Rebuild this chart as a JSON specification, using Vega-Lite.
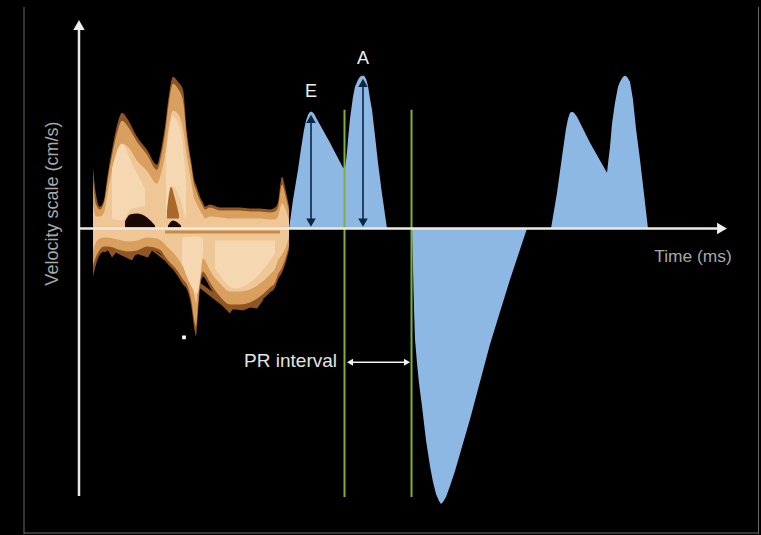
{
"$schema":"https://vega.github.io/schema/vega-lite/v6.json",
"width":761,"height":535,"autosize":{"type":"fit","contains":"padding"},"padding":0,"background":"#000000",
"config":{"view":{"stroke":null},"font":"Liberation Sans"},
"datasets":{
"doppler":[
{"t":93,"to":61,"bo":-48,"tm":47,"bm":-37,"ti":25,"bi":-22},
{"t":96,"to":34,"bo":-36,"tm":24,"bm":-28,"ti":12,"bi":-14},
{"t":100,"to":22,"bo":-26,"tm":19,"bm":-21,"ti":12,"bi":-10},
{"t":104,"to":29,"bo":-23,"tm":26,"bm":-18,"ti":16,"bi":-9},
{"t":108,"to":56,"bo":-21,"tm":51,"bm":-18,"ti":38,"bi":-9},
{"t":113,"to":84,"bo":-23,"tm":78,"bm":-19,"ti":62,"bi":-10},
{"t":118,"to":107,"bo":-25,"tm":99,"bm":-21,"ti":80,"bi":-11},
{"t":122,"to":116,"bo":-27,"tm":108,"bm":-22,"ti":85,"bi":-12},
{"t":128,"to":109,"bo":-28,"tm":102,"bm":-23,"ti":82,"bi":-13},
{"t":137,"to":92,"bo":-26,"tm":87,"bm":-22,"ti":68,"bi":-12},
{"t":147,"to":79,"bo":-21,"tm":74,"bm":-18,"ti":58,"bi":-9},
{"t":157,"to":64,"bo":-23,"tm":59,"bm":-20,"ti":45,"bi":-10},
{"t":161,"to":79,"bo":-26,"tm":72,"bm":-22,"ti":55,"bi":-12},
{"t":165,"to":102,"bo":-32,"tm":95,"bm":-28,"ti":74,"bi":-16},
{"t":169,"to":134,"bo":-37,"tm":127,"bm":-33,"ti":103,"bi":-20},
{"t":173,"to":152,"bo":-41,"tm":145,"bm":-37,"ti":118,"bi":-24},
{"t":178,"to":147,"bo":-48,"tm":140,"bm":-43,"ti":115,"bi":-30},
{"t":183,"to":139,"bo":-56,"tm":128,"bm":-51,"ti":100,"bi":-38},
{"t":187,"to":96,"bo":-61,"tm":90,"bm":-56,"ti":72,"bi":-42},
{"t":191,"to":69,"bo":-76,"tm":64,"bm":-70,"ti":48,"bi":-52},
{"t":195,"to":46,"bo":-104,"tm":41,"bm":-95,"ti":28,"bi":-70},
{"t":196,"to":44,"bo":-108,"tm":39,"bm":-98,"ti":26,"bi":-75},
{"t":198,"to":38,"bo":-85,"tm":33,"bm":-76,"ti":22,"bi":-55},
{"t":200,"to":32,"bo":-60,"tm":28,"bm":-54,"ti":18,"bi":-40},
{"t":203,"to":26,"bo":-48,"tm":22,"bm":-43,"ti":13,"bi":-30},
{"t":205,"to":22,"bo":-50,"tm":19,"bm":-45,"ti":10,"bi":-32},
{"t":210,"to":24,"bo":-59,"tm":21,"bm":-54,"ti":12,"bi":-42},
{"t":220,"to":21,"bo":-73,"tm":18,"bm":-68,"ti":11,"bi":-55},
{"t":230,"to":21,"bo":-81,"tm":18,"bm":-76,"ti":10,"bi":-63},
{"t":240,"to":21,"bo":-81,"tm":18,"bm":-76,"ti":10,"bi":-63},
{"t":250,"to":20,"bo":-79,"tm":17,"bm":-74,"ti":10,"bi":-61},
{"t":260,"to":20,"bo":-73,"tm":17,"bm":-68,"ti":10,"bi":-55},
{"t":270,"to":19,"bo":-64,"tm":16,"bm":-59,"ti":9,"bi":-46},
{"t":275,"to":21,"bo":-59,"tm":17,"bm":-54,"ti":9,"bi":-40},
{"t":278,"to":26,"bo":-51,"tm":21,"bm":-46,"ti":12,"bi":-32},
{"t":282,"to":52,"bo":-44,"tm":44,"bm":-39,"ti":25,"bi":-26},
{"t":286,"to":37,"bo":-33,"tm":31,"bm":-28,"ti":18,"bi":-18},
{"t":289,"to":22,"bo":-21,"tm":18,"bm":-17,"ti":8,"bi":-8}
],
"patches":[
{"t":112,"a":60,"b":10,"g":"h1"},{"t":122,"a":85,"b":8,"g":"h1"},{"t":132,"a":65,"b":20,"g":"h1"},{"t":145,"a":40,"b":22,"g":"h1"},
{"t":166,"a":70,"b":12,"g":"h2"},{"t":173,"a":112,"b":42,"g":"h2"},{"t":180,"a":100,"b":30,"g":"h2"},{"t":186,"a":50,"b":8,"g":"h2"},
{"t":182,"a":-10,"b":-35,"g":"h3"},{"t":190,"a":-8,"b":-55,"g":"h3"},{"t":197,"a":-8,"b":-65,"g":"h3"},{"t":203,"a":-10,"b":-22,"g":"h3"},
{"t":215,"a":-12,"b":-40,"g":"h4"},{"t":235,"a":-12,"b":-60,"g":"h4"},{"t":255,"a":-12,"b":-50,"g":"h4"},{"t":275,"a":-12,"b":-25,"g":"h4"}
],
"teeth":[
{"t":104,"a":-20,"b":-24},{"t":108,"a":-20,"b":-22},{"t":112,"a":-20,"b":-29},{"t":116,"a":-20,"b":-24},{"t":124,"a":-20,"b":-28},{"t":132,"a":-20,"b":-32},{"t":136,"a":-20,"b":-25},{"t":148,"a":-20,"b":-29},{"t":152,"a":-20,"b":-22},
{"t":222,"a":-70,"b":-77},{"t":230,"a":-70,"b":-85},{"t":233,"a":-70,"b":-80},{"t":243,"a":-70,"b":-82},{"t":250,"a":-70,"b":-79},{"t":257,"a":-70,"b":-80},{"t":263,"a":-70,"b":-72}
],
"blue":[{"t":289,"v":0,"g":"EA"},{"t":291,"v":14,"g":"EA"},{"t":293,"v":29,"g":"EA"},{"t":296,"v":47,"g":"EA"},{"t":298,"v":59,"g":"EA"},{"t":301,"v":80,"g":"EA"},{"t":304,"v":99,"g":"EA"},{"t":306,"v":108,"g":"EA"},{"t":308,"v":114,"g":"EA"},{"t":310,"v":117,"g":"EA"},{"t":312,"v":117,"g":"EA"},{"t":314,"v":115,"g":"EA"},{"t":320,"v":104,"g":"EA"},{"t":330,"v":86,"g":"EA"},{"t":343,"v":61,"g":"EA"},{"t":345,"v":61,"g":"EA"},{"t":346,"v":68,"g":"EA"},{"t":347,"v":77,"g":"EA"},{"t":348,"v":89,"g":"EA"},{"t":350,"v":110,"g":"EA"},{"t":353,"v":132,"g":"EA"},{"t":355,"v":142,"g":"EA"},{"t":358,"v":149,"g":"EA"},{"t":360,"v":152,"g":"EA"},{"t":362,"v":153,"g":"EA"},{"t":364,"v":153,"g":"EA"},{"t":366,"v":150,"g":"EA"},{"t":368,"v":143,"g":"EA"},{"t":370,"v":130,"g":"EA"},{"t":372,"v":119,"g":"EA"},{"t":375,"v":93,"g":"EA"},{"t":378,"v":66,"g":"EA"},{"t":382,"v":35,"g":"EA"},{"t":387,"v":0,"g":"EA"},
{"t":412,"v":0,"g":"V"},{"t":413,"v":-40,"g":"V"},{"t":414,"v":-80,"g":"V"},{"t":415,"v":-111,"g":"V"},{"t":417,"v":-135,"g":"V"},{"t":419,"v":-155,"g":"V"},{"t":422,"v":-178,"g":"V"},{"t":426,"v":-212,"g":"V"},{"t":430,"v":-238,"g":"V"},{"t":433,"v":-254,"g":"V"},{"t":436,"v":-266,"g":"V"},{"t":439,"v":-273,"g":"V"},{"t":441,"v":-276,"g":"V"},{"t":443,"v":-274,"g":"V"},{"t":446,"v":-269,"g":"V"},{"t":450,"v":-258,"g":"V"},{"t":455,"v":-243,"g":"V"},{"t":470,"v":-191,"g":"V"},{"t":490,"v":-116,"g":"V"},{"t":510,"v":-51,"g":"V"},{"t":527,"v":0,"g":"V"},
{"t":551,"v":0,"g":"EA2"},{"t":557,"v":36,"g":"EA2"},{"t":563,"v":79,"g":"EA2"},{"t":566,"v":100,"g":"EA2"},{"t":568,"v":110,"g":"EA2"},{"t":570,"v":116,"g":"EA2"},{"t":572,"v":117,"g":"EA2"},{"t":574,"v":116,"g":"EA2"},{"t":577,"v":112,"g":"EA2"},{"t":590,"v":86,"g":"EA2"},{"t":607,"v":56,"g":"EA2"},{"t":608,"v":65,"g":"EA2"},{"t":610,"v":82,"g":"EA2"},{"t":612,"v":105,"g":"EA2"},{"t":615,"v":126,"g":"EA2"},{"t":618,"v":142,"g":"EA2"},{"t":620,"v":147,"g":"EA2"},{"t":623,"v":152,"g":"EA2"},{"t":625,"v":153,"g":"EA2"},{"t":627,"v":152,"g":"EA2"},{"t":630,"v":147,"g":"EA2"},{"t":632,"v":135,"g":"EA2"},{"t":633,"v":129,"g":"EA2"},{"t":636,"v":100,"g":"EA2"},{"t":640,"v":69,"g":"EA2"},{"t":644,"v":35,"g":"EA2"},{"t":648,"v":0,"g":"EA2"}]
},
"encoding":{"x":{"field":"t","type":"quantitative","axis":null,"scale":{"domain":[0,761],"nice":false,"zero":false}}},
"layer":[
{"data":{"name":"teeth"},"mark":{"type":"area","color":"#8f5522"},"encoding":{"y":{"field":"a","type":"quantitative","axis":null,"scale":{"domain":[-306,229],"nice":false,"zero":false}},"y2":{"field":"b"}}},
{"data":{"name":"doppler"},"mark":{"type":"area","color":"#8f5522","interpolate":"monotone"},"encoding":{"y":{"field":"to","type":"quantitative","axis":null,"scale":{"domain":[-306,229],"nice":false,"zero":false}},"y2":{"field":"bo"}}},
{"data":{"name":"doppler"},"mark":{"type":"area","color":"#d99f5f","interpolate":"monotone"},"encoding":{"y":{"field":"tm","type":"quantitative","axis":null,"scale":{"domain":[-306,229],"nice":false,"zero":false}},"y2":{"field":"bm"}}},
{"data":{"name":"doppler"},"mark":{"type":"area","color":"#efc796","interpolate":"monotone"},"encoding":{"y":{"field":"ti","type":"quantitative","axis":null,"scale":{"domain":[-306,229],"nice":false,"zero":false}},"y2":{"field":"bi"}}},
{"data":{"name":"patches"},"mark":{"type":"area","color":"#f5d8b2","interpolate":"monotone"},"encoding":{"detail":{"field":"g"},"y":{"field":"a","type":"quantitative","axis":null,"scale":{"domain":[-306,229],"nice":false,"zero":false}},"y2":{"field":"b"}}},
{"data":{"values":[{"t":125,"a":7,"b":1,"g":"h1"},{"t":130,"a":14,"b":1,"g":"h1"},{"t":137,"a":15,"b":1,"g":"h1"},{"t":147,"a":11,"b":1,"g":"h1"},{"t":155,"a":3,"b":1,"g":"h1"},{"t":168,"a":3,"b":1,"g":"h2"},{"t":173,"a":8,"b":1,"g":"h2"},{"t":181,"a":3,"b":1,"g":"h2"}]},"mark":{"type":"area","color":"#1a0900","interpolate":"monotone"},"encoding":{"detail":{"field":"g"},"y":{"field":"a","type":"quantitative","axis":null,"scale":{"domain":[-306,229],"nice":false,"zero":false}},"y2":{"field":"b"}}},
{"data":{"values":[{"t":167,"a":18,"b":10},{"t":171,"a":42,"b":10},{"t":175,"a":30,"b":10},{"t":179,"a":14,"b":10}]},"mark":{"type":"area","color":"#a8682c","interpolate":"monotone"},"encoding":{"y":{"field":"a","type":"quantitative","axis":null,"scale":{"domain":[-306,229],"nice":false,"zero":false}},"y2":{"field":"b"}}},
{"data":{"values":[{"t":165,"a":-2,"b":-5},{"t":280,"a":-2,"b":-5}]},"mark":{"type":"area","color":"#c98a45"},"encoding":{"y":{"field":"a","type":"quantitative","axis":null,"scale":{"domain":[-306,229],"nice":false,"zero":false}},"y2":{"field":"b"}}},
{"data":{"name":"blue"},"mark":{"type":"area","color":"#8db8e4"},"encoding":{"detail":{"field":"g"},"y":{"field":"v","type":"quantitative","axis":null,"scale":{"domain":[-306,229],"nice":false,"zero":false}},"y2":{"datum":0}}},
{"data":{"values":[{"t":344.5,"a":119,"b":-269},{"t":411.5,"a":119,"b":-269}]},"mark":{"type":"rule","color":"#7fb03c","strokeWidth":2},"encoding":{"y":{"field":"a","type":"quantitative","axis":null,"scale":{"domain":[-306,229],"nice":false,"zero":false}},"y2":{"field":"b"}}},
{"data":{"values":[{"t":79,"a":199,"b":-268}]},"mark":{"type":"rule","color":"#e8e8e8","strokeWidth":2.5},"encoding":{"y":{"field":"a","type":"quantitative","axis":null,"scale":{"domain":[-306,229],"nice":false,"zero":false}},"y2":{"field":"b"}}},
{"data":{"values":[{"t":80,"e":718,"v":0}]},"mark":{"type":"rule","color":"#efe9e0","strokeWidth":2.5},"encoding":{"x2":{"field":"e"},"y":{"field":"v","type":"quantitative","axis":null,"scale":{"domain":[-306,229],"nice":false,"zero":false}}}},
{"data":{"values":[{"t":311,"a":109,"b":4},{"t":363,"a":147,"b":4}]},"mark":{"type":"rule","color":"#0b2545","strokeWidth":1.6},"encoding":{"y":{"field":"a","type":"quantitative","axis":null,"scale":{"domain":[-306,229],"nice":false,"zero":false}},"y2":{"field":"b"}}},
{"data":{"values":[{"t":349,"e":408,"v":-134}]},"mark":{"type":"rule","color":"#f2f2f2","strokeWidth":1.6},"encoding":{"x2":{"field":"e"},"y":{"field":"v","type":"quantitative","axis":null,"scale":{"domain":[-306,229],"nice":false,"zero":false}}}},
{"data":{"values":[{"t":79,"v":204,"dir":"up","kind":"axis"},{"t":722,"v":0,"dir":"right","kind":"axis"},{"t":311,"v":110,"dir":"up","kind":"dark"},{"t":363,"v":146,"dir":"up","kind":"dark"},{"t":311,"v":6,"dir":"down","kind":"dark"},{"t":363,"v":6,"dir":"down","kind":"dark"},{"t":350,"v":-134,"dir":"left","kind":"pr"},{"t":407,"v":-134,"dir":"right","kind":"pr"}]},"mark":{"type":"point","filled":true,"opacity":1},"encoding":{"y":{"field":"v","type":"quantitative","axis":null,"scale":{"domain":[-306,229],"nice":false,"zero":false}},"shape":{"field":"dir","type":"nominal","legend":null,"scale":{"domain":["up","down","left","right"],"range":["triangle-up","triangle-down","triangle-left","triangle-right"]}},"color":{"field":"kind","type":"nominal","legend":null,"scale":{"domain":["axis","dark","pr"],"range":["#eeeeee","#0b2545","#f2f2f2"]}},"size":{"field":"kind","type":"nominal","legend":null,"scale":{"domain":["axis","dark","pr"],"range":[130,50,40]}}}},
{"data":{"values":[{"t":184,"v":-109}]},"mark":{"type":"point","filled":true,"opacity":1,"shape":"square","size":14,"color":"#ffffff"},"encoding":{"y":{"field":"v","type":"quantitative","axis":null,"scale":{"domain":[-306,229],"nice":false,"zero":false}}}},
{"data":{"values":[{"t":311,"v":137,"label":"E"},{"t":363,"v":170,"label":"A"}]},"mark":{"type":"text","color":"#f0f0f0","fontSize":18,"align":"center","baseline":"middle"},"encoding":{"y":{"field":"v","type":"quantitative","axis":null,"scale":{"domain":[-306,229],"nice":false,"zero":false}},"text":{"field":"label"}}},
{"data":{"values":[{"t":337,"v":-133,"label":"PR interval"}]},"mark":{"type":"text","color":"#e4e4e4","fontSize":19,"align":"right","baseline":"middle"},"encoding":{"y":{"field":"v","type":"quantitative","axis":null,"scale":{"domain":[-306,229],"nice":false,"zero":false}},"text":{"field":"label"}}},
{"data":{"values":[{"t":693,"v":-28,"label":"Time (ms)"}]},"mark":{"type":"text","color":"#a8a8a8","fontSize":17.4,"align":"center","baseline":"middle"},"encoding":{"y":{"field":"v","type":"quantitative","axis":null,"scale":{"domain":[-306,229],"nice":false,"zero":false}},"text":{"field":"label"}}},
{"data":{"values":[{"t":53,"v":25,"label":"Velocity scale (cm/s)"}]},"mark":{"type":"text","color":"#a8a8a8","fontSize":18,"align":"center","baseline":"middle","angle":270},"encoding":{"y":{"field":"v","type":"quantitative","axis":null,"scale":{"domain":[-306,229],"nice":false,"zero":false}},"text":{"field":"label"}}},
{"data":{"values":[{"t":24,"a":222,"b":-306},{"t":758.5,"a":222,"b":-306}]},"mark":{"type":"rule","color":"#6a6a6a","strokeWidth":1},"encoding":{"y":{"field":"a","type":"quantitative","axis":null,"scale":{"domain":[-306,229],"nice":false,"zero":false}},"y2":{"field":"b"}}},
{"data":{"values":[{"t":24,"e":758.5,"v":-305}]},"mark":{"type":"rule","color":"#6a6a6a","strokeWidth":1},"encoding":{"x2":{"field":"e"},"y":{"field":"v","type":"quantitative","axis":null,"scale":{"domain":[-306,229],"nice":false,"zero":false}}}}
]
}
